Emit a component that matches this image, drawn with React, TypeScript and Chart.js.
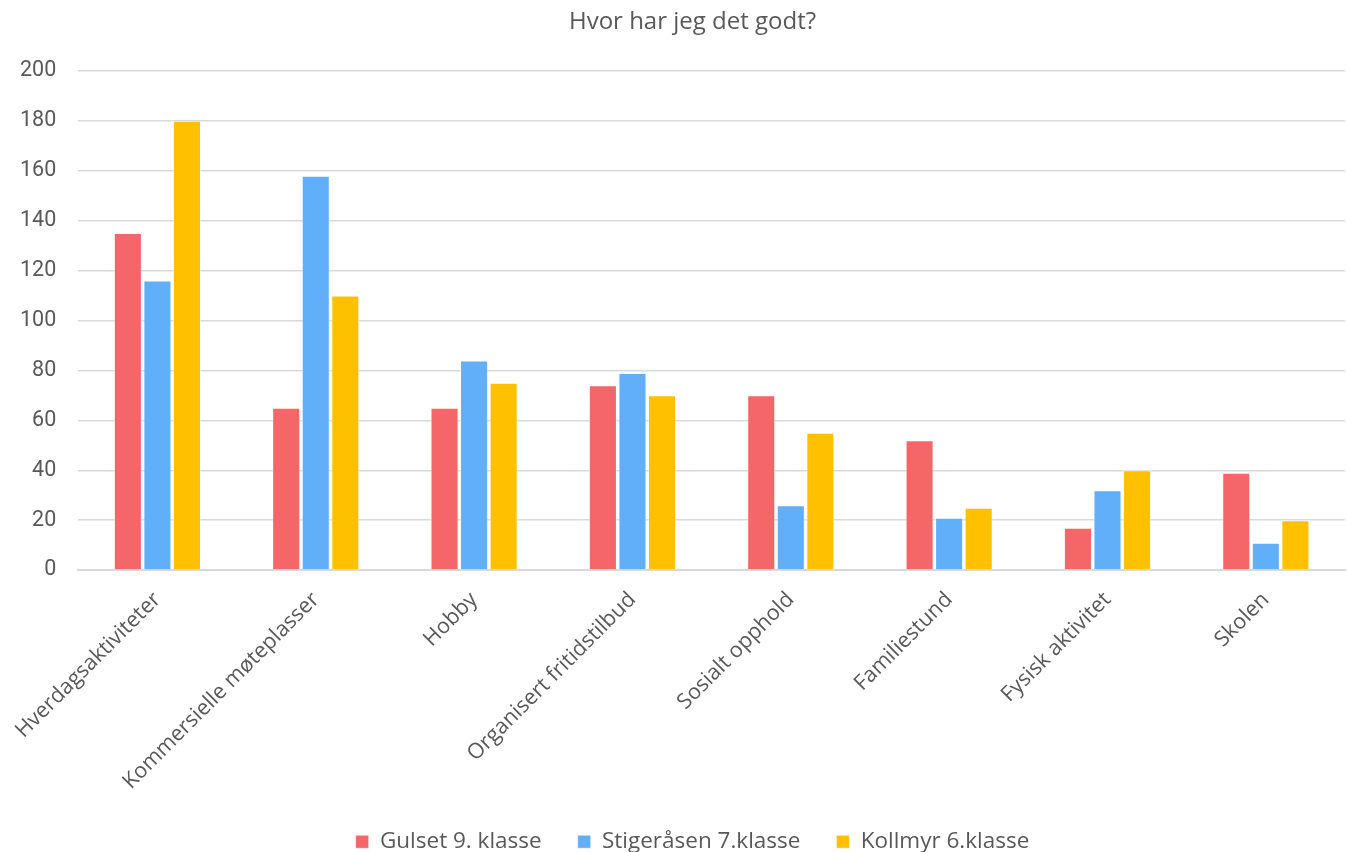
import React, { useEffect, useRef } from "react";
import { Chart, registerables } from "chart.js";

Chart.register(...registerables);

const title = "Hvor har jeg det godt?";
const categories = [
  "Hverdagsaktiviteter",
  "Kommersielle møteplasser",
  "Hobby",
  "Organisert fritidstilbud",
  "Sosialt opphold",
  "Familiestund",
  "Fysisk aktivitet",
  "Skolen",
];
const seriesNames = ["Gulset 9. klasse", "Stigeråsen 7.klasse", "Kollmyr 6.klasse"];
const gulset = [135, 65, 65, 74, 70, 52, 17, 39];
const stigeraasen = [116, 158, 84, 79, 26, 21, 32, 11];
const kollmyr = [180, 110, 75, 70, 55, 25, 40, 20];
const colors = ["#F46668", "#61AEF9", "#FFC000"];
const yTicks = [0, 20, 40, 60, 80, 100, 120, 140, 160, 180, 200];

const FONT = "'Open Sans', Roboto, sans-serif";

export default function App() {
  const ref = useRef<HTMLCanvasElement>(null);
  useEffect(() => {
    document.body.style.margin = "0";
    const values = [gulset, stigeraasen, kollmyr];
    const chart = new Chart(ref.current!, {
      type: "bar",
      data: {
        labels: categories,
        datasets: values.map((v, i) => ({
          label: seriesNames[i],
          data: v,
          backgroundColor: colors[i],
          borderColor: "rgba(255,255,255,0.5)",
          borderWidth: 1,
          barPercentage: 0.95,
          categoryPercentage: 0.56,
        })),
      },
      options: {
        animation: false,
        responsive: false,
        maintainAspectRatio: false,
        layout: { padding: { left: -2, right: -40, top: 0, bottom: -11 } },
        plugins: {
          title: {
            display: true,
            text: title,
            color: "#595959",
            font: { family: FONT, size: 24, weight: "normal" },
            padding: { top: 8, bottom: 34 },
          },
          legend: {
            position: "bottom",
            labels: {
              color: "#595959",
              font: { family: FONT, size: 22.5 },
              boxWidth: 13,
              boxHeight: 13,
              padding: 36,
            },
          },
          tooltip: { enabled: false },
        },
        scales: {
          x: {
            grid: { display: false },
            border: { display: true, color: "#D9D9D9", width: 2 },
            afterFit: (scale: any) => {
              scale.height = scale.height - 9;
            },
            ticks: {
              color: "#595959",
              font: { family: FONT, size: 21.5 },
              maxRotation: 45,
              minRotation: 45,
              padding: 9,
            },
          },
          y: {
            min: 0,
            max: 200,
            afterBuildTicks: (axis: any) => {
              axis.ticks = yTicks.map((v) => ({ value: v }));
            },
            grid: { color: "#D9D9D9", lineWidth: 1.5, drawTicks: false },
            border: { display: false },
            ticks: {
              color: "#595959",
              font: { family: "Roboto, sans-serif", size: 21.5 },
              padding: 22,
            },
          },
          spacer: {
            type: "linear",
            position: "right",
            display: true,
            grid: { display: false, drawTicks: false },
            border: { display: false },
            ticks: { display: false },
            afterFit: (scale: any) => {
              scale.width = 42;
            },
          },
        },
      },
    });
    return () => chart.destroy();
  }, []);
  return (
    <div style={{ width: 1347, height: 852 }}>
      <canvas ref={ref} width={1347} height={852} style={{ width: 1347, height: 852 }} />
    </div>
  );
}
